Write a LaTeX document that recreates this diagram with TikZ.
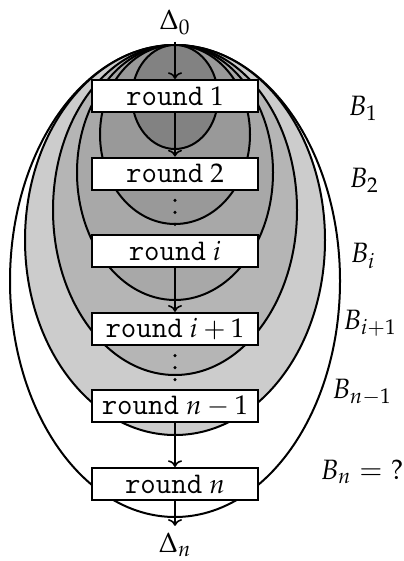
\documentclass[tikz,border=0pt]{standalone}
\usepackage{mathpazo}
\usepackage{tikz}
\usetikzlibrary{arrows.meta,positioning,calc}
\newcommand{\roundtt}{{\fontsize{15}{15}\fontseries{l}\selectfont\ttfamily round}\hspace{3.5pt}}

\begin{document}
\begin{tikzpicture}[x=0.5pt, y=0.5pt, node distance=21.8pt,
 rnd/.style={draw,fill=white,line width=1pt,minimum width=83pt,minimum height=16pt,inner sep=0pt,font=\fontsize{13.5}{15}\selectfont},
 ball/.style={draw,line width=1pt},
 lbl/.style={font=\fontsize{14}{16}\selectfont},
 flow/.style={->,line width=0.8pt}]
\useasboundingbox (0,0) rectangle (403,-561);
% the balls B_n ... B_1, all touching at the top
\filldraw[ball,fill=white]    (175,-281)   ellipse [x radius=165, y radius=236];
\filldraw[ball,fill=black!20] (175,-240)   ellipse [x radius=150, y radius=195];
\filldraw[ball,fill=black!29] (175,-210)   ellipse [x radius=122, y radius=165];
\filldraw[ball,fill=black!34] (175,-172.5) ellipse [x radius=98,  y radius=127.5];
\filldraw[ball,fill=black!40] (175,-134.5) ellipse [x radius=75,  y radius=89.5];
\filldraw[ball,fill=black!49] (175,-97)    ellipse [x radius=43,  y radius=52];

\node[lbl] (d0) at (175,-22) {$\Delta_0$};
\node[rnd] (r1) at (175,-96) {\roundtt$1$};
\node[rnd, below=of r1] (r2) {\roundtt$2$};
\node[rnd, below=of r2] (ri) {\roundtt$i$};
\node[rnd, below=of ri] (ri1) {\roundtt$i+1$};
\node[rnd, below=of ri1] (rn1) {\roundtt$n-1$};
\node[rnd, below=of rn1] (rn) {\roundtt$n$};
\node[lbl] (dn) at (175,-545) {$\Delta_n$};

% the skipped rounds
\coordinate (gap1) at ($(r2.south)!0.5!(ri.north)$);
\coordinate (gap2) at ($(ri1.south)!0.5!(rn1.north)$);
\foreach \g in {gap1,gap2}
  \foreach \k in {-1,0,1}
    \fill ($(\g)+(0,12*\k)$) circle (1.7);

\draw[flow] (d0) -- (r1);
\draw[flow] (r1) -- (r2);
\draw[flow] (ri) -- (ri1);
\draw[flow] (rn1) -- (rn);
\draw[flow] (rn) -- (dn);

\node[lbl] (b1) at (363,-108) {$B_1$};
\node[lbl] (b2) at (364,-180) {$B_2$};
\node[lbl] (bi) at (363,-256) {$B_i$};
\node[lbl] (bi1) at (370,-323) {$B_{i+1}$};
\node[lbl] (bn1) at (362,-392) {$B_{n-1}$};
\node[lbl] (bn) at (362,-472) {$B_n = {?}$};
\end{tikzpicture}
\end{document}
